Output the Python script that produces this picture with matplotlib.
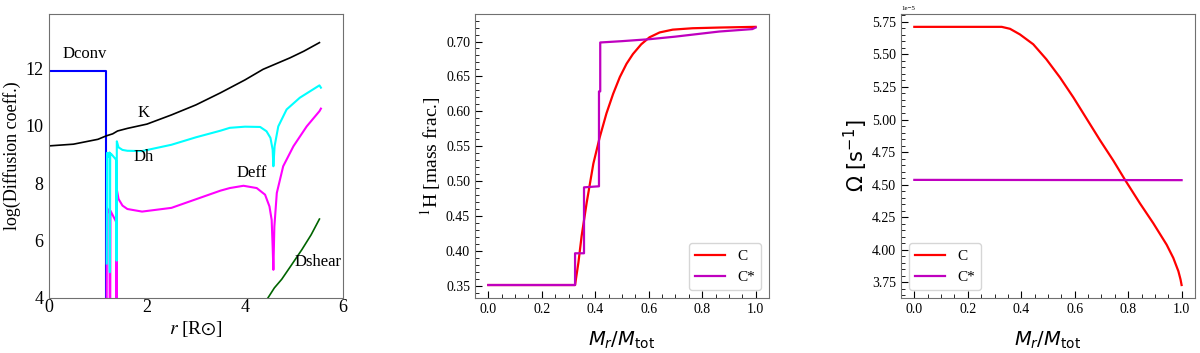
import numpy as np
import matplotlib
matplotlib.use("Agg")
import matplotlib.pyplot as plt
from matplotlib.ticker import AutoMinorLocator

plt.rcParams['font.family'] = ['Liberation Serif', 'DejaVu Serif']
plt.rcParams['axes.edgecolor'] = '#707070'

# --- left panel: diffusion coefficients vs radius
r_conv = [0.0, 1.17, 1.17]
d_conv = [11.9, 11.9, 3.0]

r_K = [0.0, 0.5, 1.0, 1.17, 1.3, 1.4, 1.6, 2.0, 2.5, 3.0, 3.5, 4.0, 4.37, 4.92, 5.2, 5.52]
d_K = [9.30, 9.36, 9.53, 9.65, 9.72, 9.82, 9.91, 10.06, 10.38, 10.73, 11.15, 11.60, 11.97, 12.37, 12.60, 12.90]

r_h = [1.18, 1.185, 1.215, 1.235, 1.24, 1.245, 1.25, 1.28, 1.36, 1.37, 1.38, 1.385, 1.42, 1.5, 1.6, 1.9,
       2.5, 3.0, 3.5, 3.69, 4.0, 4.31, 4.44, 4.52, 4.565, 4.58, 4.605, 4.68, 4.85, 5.12, 5.39, 5.52, 5.55]
d_h = [5.2, 9.06, 8.92, 9.07, 4.9, 4.9, 9.04, 9.0, 8.84, 8.8, 5.3, 9.46, 9.25, 9.16, 9.13, 9.12,
       9.34, 9.6, 9.83, 9.93, 9.97, 9.96, 9.81, 9.58, 9.17, 8.59, 9.29, 9.98, 10.57, 10.98, 11.27, 11.41, 11.33]

r_eff = [1.175, 1.185, 1.215, 1.235, 1.24, 1.25, 1.255, 1.36, 1.37, 1.38, 1.385, 1.42, 1.5, 1.6, 1.9,
         2.5, 3.0, 3.5, 3.69, 3.97, 4.24, 4.41, 4.50, 4.545, 4.565, 4.58, 4.60, 4.65, 4.78, 4.99, 5.26,
         5.52, 5.55]
d_eff = [3.0, 7.14, 6.99, 7.09, 3.0, 3.0, 7.04, 6.69, 6.64, 3.0, 7.78, 7.45, 7.22, 7.1, 7.01,
         7.14, 7.44, 7.74, 7.83, 7.91, 7.83, 7.6, 7.19, 6.72, 5.79, 4.98, 6.49, 7.66, 8.59, 9.29, 9.98,
         10.51, 10.6]

r_shear = [4.45, 4.6, 4.75, 4.95, 5.16, 5.35, 5.52]
d_shear = [3.95, 4.35, 4.65, 5.15, 5.68, 6.2, 6.75]

# --- middle panel: hydrogen profile
m_C = [0.0, 0.1, 0.2, 0.3, 0.3245, 0.337, 0.349, 0.368, 0.393, 0.417, 0.442, 0.467, 0.492, 0.517,
       0.541, 0.572, 0.603, 0.641, 0.690, 0.764, 0.864, 1.0]
X_C = [0.351, 0.351, 0.351, 0.351, 0.351, 0.383, 0.421, 0.469, 0.525, 0.563, 0.597, 0.625, 0.649, 0.668,
       0.682, 0.696, 0.706, 0.713, 0.717, 0.719, 0.720, 0.721]

m_Cs = [0.0, 0.3245, 0.3245, 0.358, 0.358, 0.414, 0.414, 0.4187, 0.4187, 0.5, 0.603, 0.7, 0.864, 0.988, 1.0]
X_Cs = [0.351, 0.351, 0.3965, 0.3965, 0.491, 0.4925, 0.6285, 0.6285, 0.6986, 0.7005, 0.7033, 0.707,
        0.7143, 0.7178, 0.72]

# --- right panel: angular velocity (1e-5 s^-1)
m_om = [0.0, 0.1, 0.2, 0.327, 0.358, 0.395, 0.445, 0.494, 0.545, 0.595, 0.645, 0.695, 0.744, 0.789,
        0.844, 0.894, 0.944, 0.969, 0.988, 0.996, 1.0]
om_C = [5.712, 5.712, 5.712, 5.712, 5.697, 5.654, 5.578, 5.463, 5.323, 5.17, 5.005, 4.84, 4.686, 4.534,
        4.356, 4.203, 4.038, 3.936, 3.834, 3.771, 3.728]
m_om_s = [0.0, 0.5, 1.0]
om_Cs = [4.536, 4.535, 4.534]

fig = plt.figure(figsize=(12, 3.53), dpi=100)

ax1 = fig.add_axes([0.0408, 0.156, 0.245, 0.8045])
ax1.plot(r_conv, d_conv, color='blue', lw=1.5)
ax1.plot(r_K, d_K, color='black', lw=1.2)
ax1.plot(r_eff, d_eff, color='magenta', lw=1.5)
ax1.plot(r_h, d_h, color='cyan', lw=1.5)
ax1.plot(r_shear, d_shear, color='darkgreen', lw=1.2)
ax1.set_xlim(0, 6)
ax1.set_ylim(4, 13.9)
ax1.set_xticks([0, 2, 4, 6])
ax1.set_yticks([4, 6, 8, 10, 12])
ax1.tick_params(length=0, labelsize=13)
ax1.tick_params(axis='x', pad=1)
ax1.tick_params(axis='y', pad=4)
ax1.set_xlabel(r"$r$ [R$\odot$]", fontsize=14, math_fontfamily='stix', labelpad=2)
ax1.set_ylabel("log(Diffusion coeff.)", fontsize=13, labelpad=3)
for txt, x, y in [("Dconv", 0.73, 12.49), ("K", 1.93, 10.46), ("Dh", 1.93, 8.92),
                  ("Deff", 4.14, 8.35), ("Dshear", 5.49, 5.26)]:
    ax1.text(x, y, txt, fontsize=12, ha='center', va='center')

ax2 = fig.add_axes([0.3958, 0.156, 0.245, 0.8045])
ax2.plot(m_C, X_C, color='red', lw=1.6, label='C')
ax2.plot(m_Cs, X_Cs, color='m', lw=1.6, label='C*')
ax2.set_yticks(np.arange(0.35, 0.701, 0.05))
ax2.set_xticks(np.arange(0, 1.01, 0.2))
ax2.xaxis.set_minor_locator(AutoMinorLocator(4))
ax2.yaxis.set_minor_locator(AutoMinorLocator(5))
ax2.tick_params(which='both', direction='in', labelsize=10)
ax2.tick_params(which='major', length=5)
ax2.tick_params(which='minor', length=3)
ax2.set_ylabel(r"$^1$H [mass frac.]", fontsize=14, math_fontfamily='stix', labelpad=2)
ax2.set_xlabel(r"$M_r/M_{\rm tot}$", fontsize=14, labelpad=10)
ax2.legend(loc='lower right', fontsize=11)

ax3 = fig.add_axes([0.7508, 0.156, 0.245, 0.8045])
ax3.plot(m_om, np.array(om_C) * 1e-5, color='red', lw=1.6, label='C')
ax3.plot(m_om_s, np.array(om_Cs) * 1e-5, color='m', lw=1.6, label='C*')
ax3.set_yticks(np.arange(3.75, 5.76, 0.25) * 1e-5)
ax3.set_xticks(np.arange(0, 1.01, 0.2))
ax3.xaxis.set_minor_locator(AutoMinorLocator(4))
ax3.yaxis.set_minor_locator(AutoMinorLocator(5))
ax3.tick_params(which='both', direction='in', labelsize=10)
ax3.tick_params(which='major', length=5)
ax3.tick_params(which='minor', length=3)
ax3.yaxis.get_offset_text().set_fontsize(5)
ax3.set_ylabel(r"$\Omega\ [\mathrm{s}^{-1}]$", fontsize=15, labelpad=1)
ax3.set_xlabel(r"$M_r/M_{\rm tot}$", fontsize=14, labelpad=10)
ax3.legend(loc='lower left', fontsize=11)

fig.savefig("out.png", dpi=100)
